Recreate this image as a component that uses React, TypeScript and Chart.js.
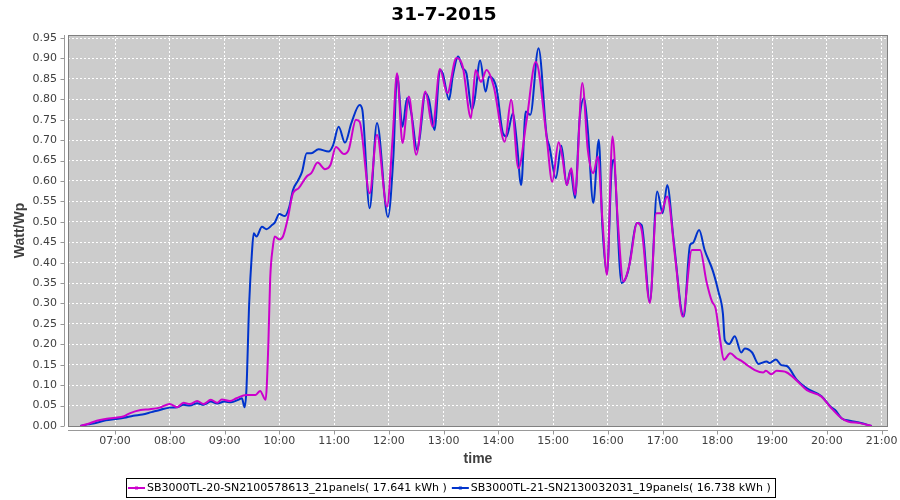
import React, { useEffect, useRef } from "react";
import { Chart, registerables } from "chart.js";

Chart.register(...registerables);

const chartTitle = "31-7-2015";
const xTitle = "time";
const yTitle = "Watt/Wp";

const hourTicks = [
  "07:00", "08:00", "09:00", "10:00", "11:00", "12:00", "13:00", "14:00",
  "15:00", "16:00", "17:00", "18:00", "19:00", "20:00", "21:00",
];
const yTickValues = [
  0, 0.05, 0.1, 0.15, 0.2, 0.25, 0.3, 0.35, 0.4, 0.45, 0.5, 0.55, 0.6, 0.65,
  0.7, 0.75, 0.8, 0.85, 0.9, 0.95,
];

const labelA = "SB3000TL-20-SN2100578613_21panels( 17.641 kWh )";
const labelB = "SB3000TL-21-SN2130032031_19panels( 16.738 kWh )";
const colorA = "#cc00cc";
const colorB = "#0033cc";

const timesA = [
  "06:22", "06:30", "06:40", "06:51", "07:00", "07:10", "07:16", "07:28", "07:38", "07:49",
  "08:00", "08:08", "08:15", "08:22", "08:30", "08:37", "08:45", "08:52", "08:57", "09:06",
  "09:13", "09:24", "09:34", "09:39", "09:45", "09:48", "09:50", "09:53", "09:55", "10:00",
  "10:04", "10:09", "10:15", "10:21", "10:30", "10:35", "10:42", "10:50", "10:56", "11:02",
  "11:11", "11:16", "11:24", "11:28", "11:39", "11:47", "11:58", "12:04", "12:09", "12:15",
  "12:22", "12:30", "12:40", "12:48", "12:56", "13:04", "13:14", "13:21", "13:30", "13:35",
  "13:41", "13:47", "13:55", "14:07", "14:14", "14:22", "14:31", "14:41", "14:53", "14:59",
  "15:06", "15:10", "15:15", "15:20", "15:24", "15:32", "15:38", "15:44", "15:49", "15:54",
  "15:59", "16:05", "16:11", "16:17", "16:24", "16:32", "16:37", "16:46", "16:53", "16:58",
  "17:05", "17:14", "17:22", "17:32", "17:41", "17:48", "17:54", "17:58", "18:03", "18:07",
  "18:14", "18:21", "18:26", "18:34", "18:41", "18:50", "18:53", "18:59", "19:05", "19:16",
  "19:27", "19:38", "19:54", "20:04", "20:16", "20:23", "20:36", "20:49",
];
const valuesA = [
  0.0, 0.005, 0.013, 0.018, 0.02, 0.024, 0.031, 0.039, 0.041, 0.045,
  0.054, 0.046, 0.057, 0.054, 0.061, 0.054, 0.064, 0.057, 0.065, 0.061,
  0.068, 0.076, 0.076, 0.086, 0.064, 0.2, 0.36, 0.44, 0.464, 0.457,
  0.464, 0.505, 0.57, 0.582, 0.611, 0.619, 0.645, 0.629, 0.639, 0.683,
  0.666, 0.676, 0.75, 0.745, 0.57, 0.713, 0.537, 0.7, 0.864, 0.693,
  0.807, 0.664, 0.819, 0.733, 0.874, 0.815, 0.901, 0.88, 0.754, 0.872,
  0.843, 0.872, 0.831, 0.696, 0.799, 0.631, 0.75, 0.892, 0.705, 0.598,
  0.695, 0.66, 0.59, 0.631, 0.566, 0.84, 0.676, 0.619, 0.66, 0.505,
  0.37, 0.709, 0.497, 0.354, 0.399, 0.497, 0.48, 0.301, 0.521, 0.521,
  0.562, 0.407, 0.268, 0.431, 0.431, 0.354, 0.305, 0.288, 0.211, 0.162,
  0.178, 0.166, 0.16, 0.147, 0.137, 0.131, 0.135, 0.127, 0.135, 0.131,
  0.111, 0.088, 0.072, 0.046, 0.019, 0.011, 0.007, 0.0,
];

const timesB = [
  "06:22", "06:30", "06:40", "06:50", "07:00", "07:10", "07:20", "07:30", "07:40", "07:50",
  "08:00", "08:08", "08:15", "08:22", "08:30", "08:37", "08:45", "08:52", "09:00", "09:07",
  "09:15", "09:19", "09:22", "09:24", "09:27", "09:30", "09:32", "09:35", "09:41", "09:46",
  "09:52", "09:55", "10:00", "10:06", "10:11", "10:15", "10:21", "10:25", "10:30", "10:35",
  "10:43", "10:54", "10:59", "11:05", "11:12", "11:19", "11:28", "11:31", "11:39", "11:47",
  "11:59", "12:05", "12:09", "12:15", "12:20", "12:25", "12:31", "12:34", "12:40", "12:44",
  "12:50", "12:56", "12:59", "13:06", "13:10", "13:16", "13:21", "13:25", "13:31", "13:34",
  "13:40", "13:46", "13:50", "13:58", "14:05", "14:09", "14:16", "14:20", "14:25", "14:30",
  "14:35", "14:44", "14:53", "14:56", "15:03", "15:09", "15:15", "15:19", "15:24", "15:29",
  "15:34", "15:38", "15:44", "15:50", "15:54", "15:59", "16:04", "16:06", "16:15", "16:22",
  "16:32", "16:37", "16:46", "16:54", "17:00", "17:05", "17:12", "17:23", "17:30", "17:33",
  "17:40", "17:46", "17:55", "18:01", "18:06", "18:08", "18:13", "18:19", "18:26", "18:30",
  "18:38", "18:45", "18:54", "18:57", "19:04", "19:10", "19:16", "19:27", "19:38", "19:54",
  "20:04", "20:09", "20:16", "20:25", "20:36", "20:49",
];
const valuesB = [
  0.0, 0.004, 0.008, 0.014, 0.017, 0.02, 0.025, 0.028, 0.034, 0.04,
  0.045, 0.046, 0.052, 0.05, 0.056, 0.052, 0.06, 0.055, 0.06, 0.058,
  0.064, 0.068, 0.046, 0.09, 0.3, 0.424, 0.472, 0.464, 0.488, 0.482,
  0.492, 0.498, 0.519, 0.514, 0.537, 0.578, 0.603, 0.623, 0.668, 0.668,
  0.678, 0.672, 0.688, 0.733, 0.694, 0.742, 0.786, 0.774, 0.533, 0.742,
  0.512, 0.66, 0.86, 0.733, 0.803, 0.762, 0.676, 0.709, 0.815, 0.799,
  0.725, 0.872, 0.864, 0.799, 0.856, 0.905, 0.876, 0.864, 0.774, 0.799,
  0.895, 0.819, 0.856, 0.827, 0.717, 0.709, 0.766, 0.701, 0.59, 0.77,
  0.762, 0.925, 0.709, 0.684, 0.607, 0.686, 0.59, 0.627, 0.558, 0.75,
  0.803, 0.725, 0.546, 0.701, 0.488, 0.374, 0.627, 0.652, 0.35, 0.378,
  0.497, 0.492, 0.305, 0.574, 0.521, 0.59, 0.456, 0.268, 0.443, 0.448,
  0.48, 0.431, 0.38, 0.33, 0.276, 0.211, 0.201, 0.22, 0.18, 0.19,
  0.18, 0.152, 0.158, 0.154, 0.163, 0.149, 0.147, 0.113, 0.092, 0.073,
  0.047, 0.039, 0.019, 0.013, 0.008, 0.0,
];

const toHours = (s: string): number => {
  const [h, m] = s.split(":").map(Number);
  return h + m / 60;
};

const X_MIN = 6.1417;
const X_MAX = 21.115;
const Y_MIN = 0;
const Y_MAX = 0.9575;

const framePlugin = {
  id: "framePlugin",
  beforeDraw(chart: any) {
    const { ctx, chartArea } = chart;
    const { left, top, right, bottom } = chartArea;
    ctx.save();
    ctx.fillStyle = "#ffffff";
    ctx.fillRect(0, 0, chart.width, chart.height);
    ctx.fillStyle = "#cccccc";
    ctx.fillRect(left, top, right - left, bottom - top);
    ctx.restore();
  },
  afterDraw(chart: any) {
    const { ctx, chartArea, scales } = chart;
    const { left, top, right, bottom } = chartArea;
    ctx.save();
    // plot outline
    ctx.strokeStyle = "#808080";
    ctx.lineWidth = 1;
    ctx.strokeRect(left + 0.5, top + 0.5, right - left - 1, bottom - top);
    // offset axis lines
    ctx.strokeStyle = "#999999";
    ctx.beginPath();
    const ax = left - 3.5;
    ctx.moveTo(ax, top);
    ctx.lineTo(ax, bottom);
    const ay = bottom + 4.5;
    ctx.moveTo(left, ay);
    ctx.lineTo(right, ay);
    // tick marks
    scales.y.ticks.forEach((t: any) => {
      const py = Math.round(scales.y.getPixelForValue(t.value)) + 0.5;
      ctx.moveTo(ax - 4, py);
      ctx.lineTo(ax, py);
    });
    scales.x.ticks.forEach((t: any) => {
      const px = Math.round(scales.x.getPixelForValue(t.value)) + 0.5;
      ctx.moveTo(px, ay);
      ctx.lineTo(px, ay + 4);
    });
    ctx.stroke();

    // legend
    const items = chart.data.datasets.map((d: any) => ({ text: d.label, color: d.borderColor }));
    ctx.font = "11px 'DejaVu Sans'";
    const lineW = 17;
    const gapLT = 2;
    const gapItems = 5;
    const padL = 2;
    const padR = 4;
    const widths = items.map((it: any) => ctx.measureText(it.text).width);
    let total = padL + padR;
    widths.forEach((w: number, i: number) => {
      total += lineW + gapLT + w + (i > 0 ? gapItems : 0);
    });
    const boxX = Math.round(chart.width / 2 - total / 2);
    const boxY = 478;
    const boxH = 19;
    ctx.strokeStyle = "#000000";
    ctx.lineWidth = 1;
    ctx.strokeRect(boxX + 0.5, boxY + 0.5, Math.round(total), boxH);
    let x = boxX + padL;
    const cy = boxY + boxH / 2 + 0.5;
    items.forEach((it: any, i: number) => {
      if (i > 0) x += gapItems;
      ctx.strokeStyle = it.color;
      ctx.lineWidth = 2;
      ctx.beginPath();
      ctx.moveTo(x, cy);
      ctx.lineTo(x + lineW, cy);
      ctx.stroke();
      ctx.fillStyle = it.color;
      ctx.fillRect(x + lineW / 2 - 1.5, cy - 1.5, 3, 3);
      x += lineW + gapLT;
      ctx.fillStyle = "#000000";
      ctx.textBaseline = "middle";
      ctx.textAlign = "left";
      ctx.fillText(it.text, x, cy);
      x += widths[i];
    });
    ctx.restore();
  },
};

export default function App() {
  const canvasRef = useRef<HTMLCanvasElement | null>(null);

  useEffect(() => {
    const canvas = canvasRef.current;
    if (!canvas) return;
    const tickFont = { family: "'DejaVu Sans'", size: 11 };
    const axisTitleFont = { family: "'Liberation Sans'", size: 14, weight: "bold" as const };
    const chart = new Chart(canvas, {
      type: "line",
      data: {
        datasets: [
          {
            label: labelA,
            data: timesA.map((t, i) => ({ x: toHours(t), y: valuesA[i] })),
            borderColor: colorA,
            backgroundColor: colorA,
            borderWidth: 2,
            pointRadius: 0,
            cubicInterpolationMode: "monotone",
            fill: false,
          },
          {
            label: labelB,
            data: timesB.map((t, i) => ({ x: toHours(t), y: valuesB[i] })),
            borderColor: colorB,
            backgroundColor: colorB,
            borderWidth: 2,
            pointRadius: 0,
            cubicInterpolationMode: "monotone",
            fill: false,
          },
        ],
      },
      options: {
        responsive: false,
        animation: false,
        layout: { padding: { left: 0, right: 12, top: 0, bottom: 30 } },
        plugins: {
          legend: { display: false },
          tooltip: { enabled: false },
          title: {
            display: true,
            text: chartTitle,
            color: "#000000",
            font: { family: "'DejaVu Sans'", size: 18.5, weight: "bold" },
            padding: { top: 4, bottom: 8.8 },
          },
        },
        scales: {
          x: {
            type: "linear",
            min: X_MIN,
            max: X_MAX,
            afterBuildTicks: (s: any) => {
              s.ticks = hourTicks.map((h) => ({ value: toHours(h) }));
            },
            afterFit: (s: any) => {
              s.height = 44;
              s.paddingLeft = 0;
              s.paddingRight = 0;
            },
            ticks: {
              autoSkip: false,
              maxRotation: 0,
              padding: 9,
              color: "#404040",
              font: tickFont,
              callback: (_v: any, i: number) => hourTicks[i],
            },
            grid: { color: "#ffffff", lineWidth: 1, drawTicks: false },
            border: { display: false, dash: [2, 2] },
            title: {
              display: true,
              text: xTitle,
              color: "#404040",
              font: axisTitleFont,
              padding: { top: 0, bottom: 2 },
            },
          },
          y: {
            type: "linear",
            min: Y_MIN,
            max: Y_MAX,
            afterBuildTicks: (s: any) => {
              s.ticks = yTickValues.map((v) => ({ value: v }));
            },
            afterFit: (s: any) => {
              s.width = 68;
              s.paddingTop = 0;
              s.paddingBottom = 0;
            },
            ticks: {
              padding: 11,
              color: "#404040",
              font: tickFont,
              callback: (v: any) => Number(v).toFixed(2),
            },
            grid: { color: "#ffffff", lineWidth: 1, drawTicks: false },
            border: { display: false, dash: [2, 2] },
            title: {
              display: true,
              text: yTitle,
              color: "#404040",
              font: axisTitleFont,
              padding: { top: 12, bottom: 0 },
            },
          },
        },
      },
      plugins: [framePlugin],
    } as any);
    return () => chart.destroy();
  }, []);

  return (
    <div style={{ position: "absolute", left: 0, top: 0, width: 900, height: 500, background: "#ffffff" }}>
      <canvas ref={canvasRef} width={900} height={500} style={{ width: 900, height: 500, display: "block" }} />
    </div>
  );
}
